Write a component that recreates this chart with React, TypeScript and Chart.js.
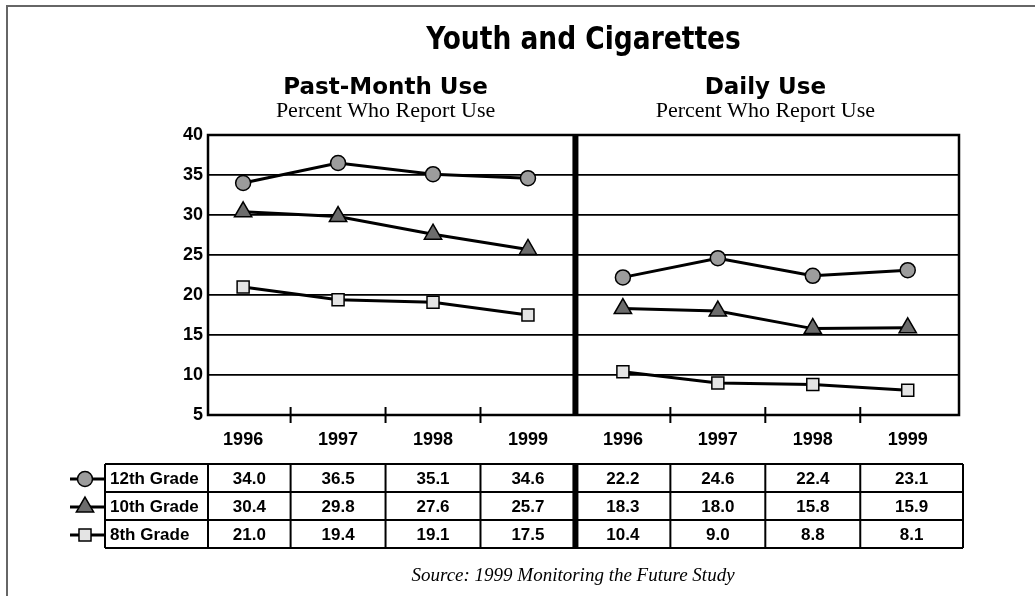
import React, { useEffect, useRef } from 'react';
import { Chart, registerables } from 'chart.js';

Chart.register(...registerables);

const title = 'Youth and Cigarettes';
const panelTitles = ['Past-Month Use', 'Daily Use'];
const panelSubtitle = 'Percent Who Report Use';
const sourceNote = 'Source: 1999 Monitoring the Future Study';
const years = ['1996', '1997', '1998', '1999'];
const grades = ['12th Grade', '10th Grade', '8th Grade'];
const yTicks = [5, 10, 15, 20, 25, 30, 35, 40];

const pastMonth12 = [34.0, 36.5, 35.1, 34.6];
const pastMonth10 = [30.4, 29.8, 27.6, 25.7];
const pastMonth8 = [21.0, 19.4, 19.1, 17.5];
const daily12 = [22.2, 24.6, 22.4, 23.1];
const daily10 = [18.3, 18.0, 15.8, 15.9];
const daily8 = [10.4, 9.0, 8.8, 8.1];

const SANS = '"Liberation Sans", Arial, sans-serif';
const WIDE = '"DejaVu Sans", "Liberation Sans", sans-serif';
const NARROW = '"DejaVu Sans Condensed", "Liberation Sans", sans-serif';
const SERIF = '"Liberation Serif", "DejaVu Serif", serif';

const gradeStyles = [
  { pointStyle: 'circle', radius: 7.5, fill: '#9c9c9c' },
  { pointStyle: 'triangle', radius: 10, fill: '#6c6c6c' },
  { pointStyle: 'rect', radius: 8.5, fill: '#e4e4e4' },
];

const panelSeries = [
  [pastMonth12, pastMonth10, pastMonth8],
  [daily12, daily10, daily8],
];

const allLabels = [...years, ...years];

function drawMarker(ctx: CanvasRenderingContext2D, style: string, x: number, y: number, r: number, fill: string) {
  ctx.save();
  ctx.beginPath();
  if (style === 'circle') {
    ctx.arc(x, y, r, 0, Math.PI * 2);
  } else if (style === 'triangle') {
    const h = r * 1.5;
    const w = r * Math.sqrt(3);
    ctx.moveTo(x, y - r);
    ctx.lineTo(x + w / 2, y - r + h);
    ctx.lineTo(x - w / 2, y - r + h);
    ctx.closePath();
  } else {
    const s = r * Math.SQRT1_2;
    ctx.rect(x - s, y - s, 2 * s, 2 * s);
  }
  ctx.fillStyle = fill;
  ctx.fill();
  ctx.lineWidth = 1.5;
  ctx.strokeStyle = '#000';
  ctx.stroke();
  ctx.restore();
}

const decorPlugin = {
  id: 'decor',
  beforeDraw(chart: any) {
    const ctx = chart.ctx;
    ctx.save();
    ctx.fillStyle = '#fff';
    ctx.fillRect(0, 0, chart.width, chart.height);
    ctx.strokeStyle = '#666';
    ctx.lineWidth = 2;
    ctx.beginPath();
    ctx.moveTo(7, chart.height);
    ctx.lineTo(7, 6);
    ctx.lineTo(chart.width, 6);
    ctx.stroke();
    ctx.restore();
  },
  beforeDatasetsDraw(chart: any) {
    const ctx = chart.ctx;
    const a = chart.chartArea;
    const xs = chart.scales.x;
    ctx.save();
    ctx.strokeStyle = '#000';
    ctx.lineWidth = 2.5;
    ctx.strokeRect(a.left, a.top, a.right - a.left, a.bottom - a.top);
    const dx = xs.getPixelForValue(years.length - 0.5);
    ctx.fillStyle = '#000';
    ctx.fillRect(dx - 3, a.top, 6, a.bottom - a.top);
    ctx.lineWidth = 2;
    ctx.beginPath();
    for (let p = 0; p < 2; p++) {
      for (let i = 0; i < years.length - 1; i++) {
        const tx = xs.getPixelForValue(p * years.length + i + 0.5);
        ctx.moveTo(tx, a.bottom - 8);
        ctx.lineTo(tx, a.bottom + 8);
      }
    }
    ctx.stroke();
    ctx.restore();
  },
  afterDraw(chart: any) {
    const ctx = chart.ctx;
    const a = chart.chartArea;
    const xs = chart.scales.x;
    ctx.save();
    ctx.fillStyle = '#000';
    ctx.textBaseline = 'middle';
    ctx.textAlign = 'center';
    // main title (condensed)
    ctx.save();
    ctx.font = `bold 32px ${NARROW}`;
    ctx.translate((a.left + a.right) / 2, 41);
    ctx.scale(0.92, 1);
    ctx.fillText(title, 0, 0);
    ctx.restore();
    // panel titles
    for (let p = 0; p < 2; p++) {
      const cx = xs.getPixelForValue(p * years.length + 1.5);
      ctx.font = `bold 23px ${WIDE}`;
      ctx.fillText(panelTitles[p], cx, 88);
      ctx.font = `22px ${SERIF}`;
      ctx.fillText(panelSubtitle, cx, 111);
    }

    // data table
    const top = 464;
    const rowH = 28;
    const labelLeft = 105;
    const right = a.right + 4;
    const bounds: number[] = [a.left];
    for (let i = 0; i < years.length * 2 - 1; i++) bounds.push(xs.getPixelForValue(i + 0.5));
    bounds.push(right);

    ctx.strokeStyle = '#000';
    ctx.lineWidth = 2;
    ctx.beginPath();
    for (let r = 0; r <= grades.length; r++) {
      ctx.moveTo(labelLeft, top + r * rowH);
      ctx.lineTo(right, top + r * rowH);
    }
    ctx.moveTo(labelLeft, top);
    ctx.lineTo(labelLeft, top + grades.length * rowH);
    bounds.forEach((bx, i) => {
      if (i === years.length) return;
      ctx.moveTo(bx, top);
      ctx.lineTo(bx, top + grades.length * rowH);
    });
    ctx.stroke();
    const mid = bounds[years.length];
    ctx.fillRect(mid - 3, top - 1, 6, grades.length * rowH + 2);

    grades.forEach((g, r) => {
      const cy = top + r * rowH + rowH / 2 + 1;
      ctx.textAlign = 'left';
      ctx.font = `bold 17px ${SANS}`;
      ctx.fillText(g, labelLeft + 5, cy);
      ctx.beginPath();
      ctx.lineWidth = 3;
      ctx.moveTo(70, cy);
      ctx.lineTo(labelLeft - 1, cy);
      ctx.stroke();
      const st = gradeStyles[r];
      drawMarker(ctx, st.pointStyle, 85, cy, st.radius, st.fill);
      ctx.textAlign = 'center';
      ctx.font = `bold 17px ${SANS}`;
      for (let p = 0; p < 2; p++) {
        const vals = panelSeries[p][r];
        vals.forEach((v, i) => {
          const c = p * years.length + i;
          const cx = (bounds[c] + bounds[c + 1]) / 2;
          ctx.fillText(v.toFixed(1), cx, cy);
        });
      }
    });

    ctx.textAlign = 'center';
    ctx.font = `italic 19px ${SERIF}`;
    ctx.fillText(sourceNote, 573, 576);
    ctx.restore();
  },
};

export default function App() {
  const ref = useRef<HTMLCanvasElement | null>(null);
  useEffect(() => {
    if (!ref.current) return;
    const datasets: any[] = [];
    for (let p = 0; p < 2; p++) {
      grades.forEach((g, r) => {
        const st = gradeStyles[r];
        datasets.push({
          label: `${g} ${panelTitles[p]}`,
          data: panelSeries[p][r].map((v, i) => ({ x: p * years.length + i, y: v })),
          borderColor: '#000',
          borderWidth: 3,
          pointStyle: st.pointStyle,
          pointRadius: st.radius,
          pointHoverRadius: st.radius,
          pointBackgroundColor: st.fill,
          pointBorderColor: '#000',
          pointBorderWidth: 1.5,
          tension: 0,
          fill: false,
        });
      });
    }
    const chart = new Chart(ref.current, {
      type: 'line',
      data: { datasets },
      options: {
        animation: false,
        responsive: false,
        devicePixelRatio: 1,
        events: [],
        layout: { padding: { left: 168, right: 76, top: 135, bottom: 141 } },
        plugins: { legend: { display: false }, tooltip: { enabled: false }, title: { display: false } },
        scales: {
          x: {
            type: 'linear',
            min: -0.37,
            max: 7.54,
            afterBuildTicks: (axis: any) => {
              axis.ticks = allLabels.map((_, i) => ({ value: i }));
            },
            afterFit: (axis: any) => {
              axis.height = 40;
            },
            grid: { display: false, drawTicks: false },
            border: { display: false },
            ticks: {
              autoSkip: false,
              maxRotation: 0,
              padding: 14,
              color: '#000',
              font: { family: SANS, size: 18, weight: 'bold' },
              callback: (_v: any, i: number) => allLabels[i],
            },
          },
          y: {
            type: 'linear',
            min: yTicks[0],
            max: yTicks[yTicks.length - 1],
            afterBuildTicks: (axis: any) => {
              axis.ticks = yTicks.map((v) => ({ value: v }));
            },
            afterFit: (axis: any) => {
              axis.width = 40;
            },
            grid: { color: '#000', lineWidth: 1.8, drawTicks: false },
            border: { display: false },
            ticks: {
              padding: 5,
              color: '#000',
              font: { family: SANS, size: 18, weight: 'bold' },
            },
          },
        },
      },
      plugins: [decorPlugin],
    } as any);
    return () => chart.destroy();
  }, []);
  return (
    <div style={{ position: 'fixed', left: 0, top: 0, width: 1035, height: 596 }}>
      <canvas ref={ref} width={1035} height={596} style={{ display: 'block' }} />
    </div>
  );
}
